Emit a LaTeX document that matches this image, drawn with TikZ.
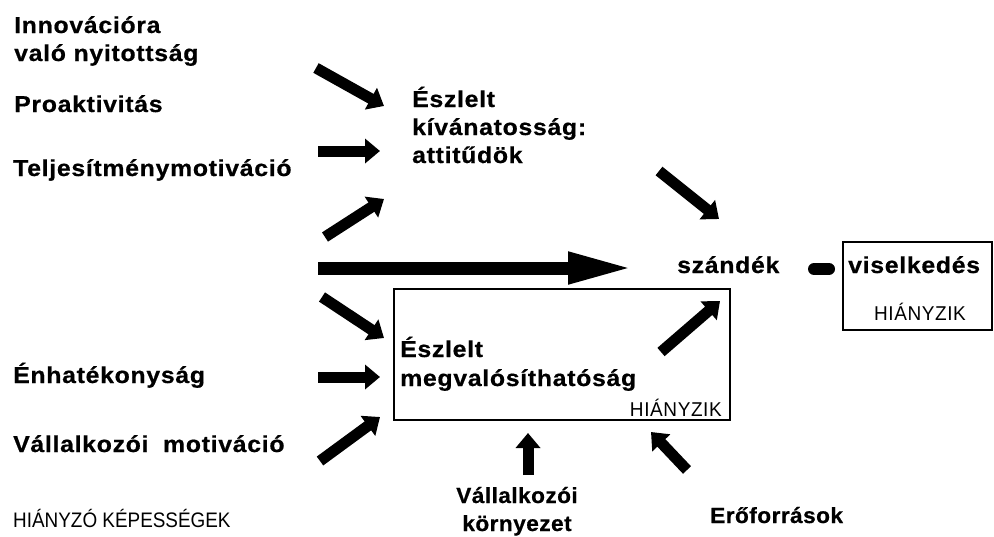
\documentclass[tikz,border=0pt]{standalone}
\usepackage{fontspec}
\setmainfont{Liberation Sans}
\newfontfamily\widebold[FakeStretch=1.08,LetterSpace=3,FakeBold=0.6]{Liberation Sans Bold}
\newfontfamily\botbold[FakeStretch=1.03,LetterSpace=2,FakeBold=0.6]{Liberation Sans Bold}
\newfontfamily\narrowfont[FakeStretch=0.9]{Liberation Sans}
\newfontfamily\tagfont[FakeStretch=0.95,LetterSpace=3]{Liberation Sans}
\usetikzlibrary{arrows.meta}
\tikzset{
  lbl/.style={font=\widebold\fontsize{23}{28}\selectfont, inner sep=0pt, anchor=base west, align=left},
  blbl/.style={font=\botbold\fontsize{22}{28}\selectfont, inner sep=0pt, anchor=base, align=center},
  tag/.style={font=\tagfont\fontsize{20}{24}\selectfont, inner sep=0pt, anchor=base},
  fat/.style={line width=11pt, -{Triangle[length=15pt,width=24pt]}},
  box/.style={draw, line width=2pt},
}
\begin{document}
\begin{tikzpicture}[x=1pt,y=-1pt]
\useasboundingbox (0,0) rectangle (994,536);
% left labels
\node[lbl] (inno) at (14,33) {Innovációra};
\node[lbl] (inno2) at (14,61) {való nyitottság};
\node[lbl] (pro) at (14,112) {Proaktivitás};
\node[lbl] (telj) at (13,176) {Teljesítménymotiváció};
\node[lbl] (enh) at (13,383) {Énhatékonyság};
\node[lbl] (vall) at (13,452) {Vállalkozói\hspace{7pt} motiváció};
\node[font=\narrowfont\fontsize{21}{24}\selectfont, inner sep=0pt, anchor=base west] (hk) at (13,527) {HIÁNYZÓ KÉPESSÉGEK};
% attitudes
\node[lbl] (att1) at (412,107) {Észlelt};
\node[lbl] (att2) at (412,135) {kívánatosság:};
\node[lbl] (att3) at (412,163) {attitűdök};
% feasibility box
\draw[box] (394,289) rectangle (730,420);
\node[lbl] (megv1) at (400,357) {Észlelt};
\node[lbl] (megv2) at (400,386) {megvalósíthatóság};
\node[tag, anchor=base east] (h1) at (722,416) {HIÁNYZIK};
% intention
\node[lbl] (szand) at (677,273) {szándék};
% behaviour box
\draw[box] (843,242) -- (992,242) -- (992,330) -- (843,330) -- cycle;
\node[lbl] (visel) at (848,273) {viselkedés};
\node[tag] (h2) at (920,320) {HIÁNYZIK};
% bottom labels
\node[blbl] (korny1) at (517,503) {Vállalkozói};
\node[blbl] (korny2) at (517,531) {környezet};
\node[blbl, anchor=base west] (ero) at (710,523) {Erőforrások};
% arrow endpoints
\coordinate (a1s) at (316,68);  \coordinate (a1e) at (384,106);
\coordinate (a2s) at (318,151); \coordinate (a2e) at (380,151);
\coordinate (a3s) at (325,237); \coordinate (a3e) at (384,199);
\coordinate (a4s) at (318,268); \coordinate (a4e) at (634,268);
\coordinate (a5s) at (322,297); \coordinate (a5e) at (384,338);
\coordinate (a6s) at (318,377); \coordinate (a6e) at (380,377);
\coordinate (a7s) at (320,461); \coordinate (a7e) at (380,417);
\coordinate (a8s) at (659,171); \coordinate (a8e) at (719,219);
\coordinate (a9s) at (661,352); \coordinate (a9e) at (720,301);
\coordinate (a10s) at (528,475); \coordinate (a10e) at (528,433);
\coordinate (a11s) at (687,470); \coordinate (a11e) at (651,432);
\coordinate (b1s) at (814,269); \coordinate (b1e) at (829,269);
\draw[fat] (a1s) -- (a1e);
\draw[fat] (a2s) -- (a2e);
\draw[fat] (a3s) -- (a3e);
\draw[line width=13pt, -{Triangle[length=66pt,width=29pt]}] (a4s) -- (a4e);
\draw[fat] (a5s) -- (a5e);
\draw[fat] (a6s) -- (a6e);
\draw[fat] (a7s) -- (a7e);
\draw[fat] (a8s) -- (a8e);
\draw[fat] (a9s) -- (a9e);
\draw[fat] (a10s) -- (a10e);
\draw[fat] (a11s) -- (a11e);
\draw[line width=12pt, line cap=round] (b1s) -- (b1e);
\end{tikzpicture}
\end{document}
